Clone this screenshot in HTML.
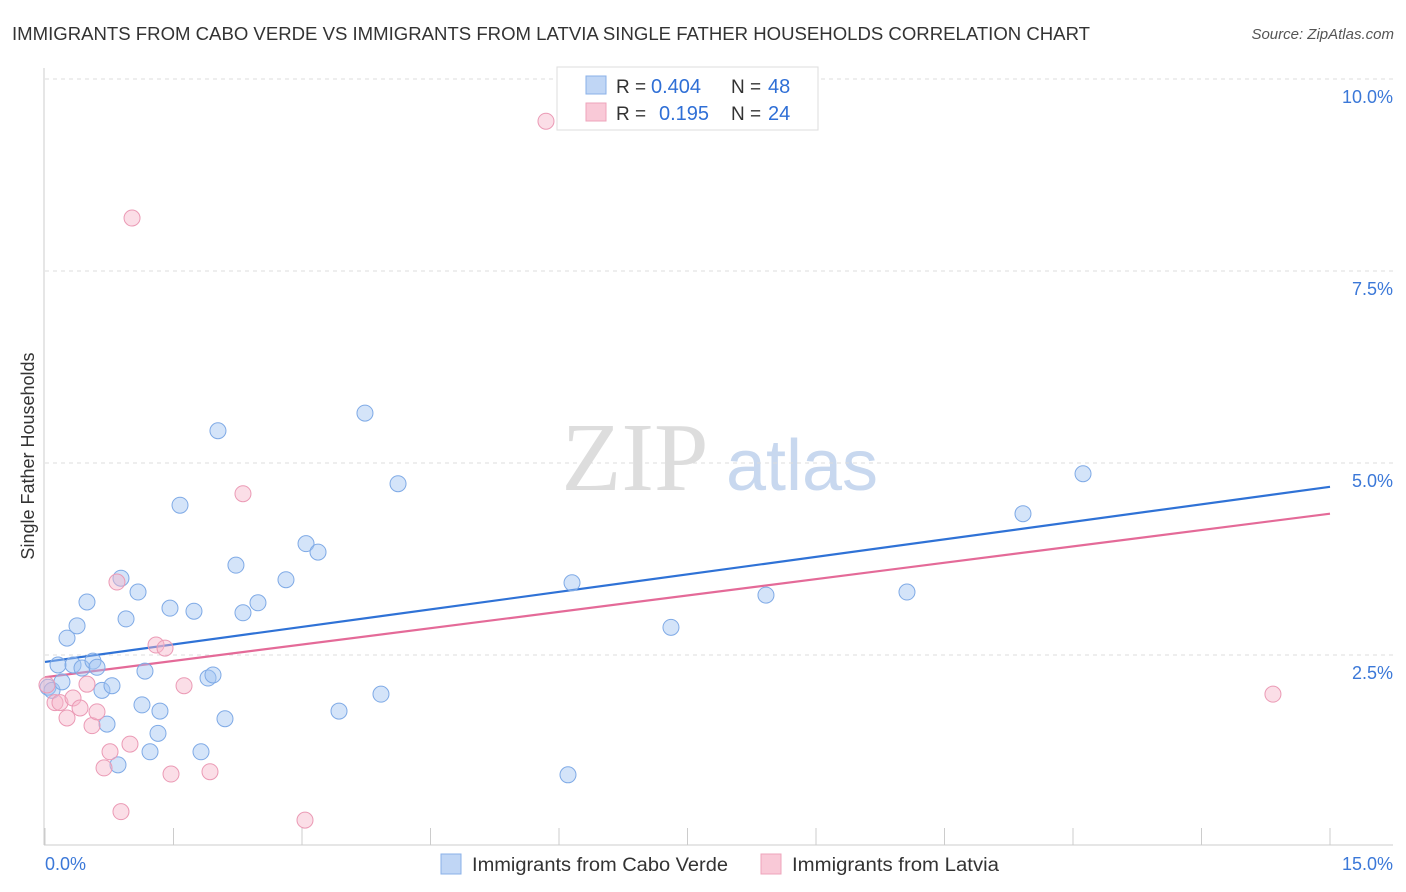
<!DOCTYPE html>
<html><head><meta charset="utf-8"><style>
body{margin:0;background:#fff;font-family:"Liberation Sans",sans-serif}
svg{display:block}
</style></head><body>
<svg id="c" width="1406" height="892">
<text x="12" y="40" font-size="18" fill="#333" textLength="1078" lengthAdjust="spacingAndGlyphs">IMMIGRANTS FROM CABO VERDE VS IMMIGRANTS FROM LATVIA SINGLE FATHER HOUSEHOLDS CORRELATION CHART</text>
<text x="1394" y="39" font-size="15" fill="#555" font-style="italic" text-anchor="end">Source: ZipAtlas.com</text>
<g>
<text x="635" y="490" font-size="98" fill="#ddd" font-family="Liberation Serif,serif" text-anchor="middle">ZIP</text>
<text x="802" y="490" font-size="72" fill="#c8d8ef" text-anchor="middle">atlas</text>
</g>
<text transform="translate(34,456) rotate(-90)" font-size="18" fill="#333" text-anchor="middle">Single Father Households</text>
<g id="grid"></g><g id="ticks"></g><g id="trend"></g><g id="pts"></g>
<g>
<rect x="557" y="67" width="261" height="63" fill="#fff" stroke="#ddd"/>
<rect x="586" y="76" width="20" height="18" fill="#c0d6f5" stroke="#8ab0e8"/>
<text x="616" y="93" font-size="19" fill="#333">R = </text>
<text x="651" y="93" font-size="20" fill="#2f6fd6">0.404</text>
<text x="731" y="93" font-size="19" fill="#333">N = </text>
<text x="768" y="93" font-size="20" fill="#2f6fd6">48</text>
<rect x="586" y="103" width="20" height="18" fill="#f9c9d7" stroke="#eea4bb"/>
<text x="616" y="120" font-size="19" fill="#333">R = </text>
<text x="659" y="120" font-size="20" fill="#2f6fd6">0.195</text>
<text x="731" y="120" font-size="19" fill="#333">N = </text>
<text x="768" y="120" font-size="20" fill="#2f6fd6">24</text>
</g>
<g>
<rect x="441" y="854" width="20" height="20" fill="#c0d6f5" stroke="#8ab0e8"/>
<text x="472" y="871" font-size="19" fill="#333" textLength="256" lengthAdjust="spacingAndGlyphs">Immigrants from Cabo Verde</text>
<rect x="761" y="854" width="20" height="20" fill="#f9c9d7" stroke="#eea4bb"/>
<text x="792" y="871" font-size="19" fill="#333" textLength="207" lengthAdjust="spacingAndGlyphs">Immigrants from Latvia</text>
</g>
<text x="45" y="870" font-size="18" fill="#3b78d8">0.0%</text>
<text x="1393" y="870" font-size="18" fill="#3b78d8" text-anchor="end">15.0%</text>
</svg>
<script>
const blueX=[0.035,0.082,0.152,0.198,0.257,0.327,0.374,0.432,0.490,0.560,0.607,0.665,0.724,0.782,0.852,0.887,0.946,1.086,1.132,1.167,1.226,1.319,1.342,1.459,1.576,1.739,1.821,1.903,1.961,2.019,2.101,2.229,2.311,2.486,2.813,3.047,3.187,3.432,3.735,3.922,4.121,6.105,6.152,7.307,8.416,10.062,11.416,12.117];
const blueY=[2.08,2.04,2.37,2.15,2.72,2.37,2.88,2.33,3.19,2.42,2.34,2.04,1.60,2.10,1.07,3.50,2.97,3.32,1.85,2.29,1.24,1.48,1.77,3.11,4.45,3.07,1.24,2.20,2.24,5.42,1.67,3.67,3.05,3.18,3.48,3.95,3.84,1.77,5.65,1.99,4.73,0.94,3.44,2.86,3.28,3.32,4.34,4.86];
const pinkX=[0.023,0.117,0.175,0.257,0.327,0.409,0.490,0.549,0.607,0.689,0.759,0.840,0.887,0.992,1.016,1.296,1.401,1.471,1.623,1.926,2.311,3.035,5.848,14.334];
const pinkY=[2.11,1.88,1.88,1.68,1.94,1.81,2.12,1.58,1.76,1.03,1.24,3.45,0.46,1.34,8.19,2.63,2.59,0.95,2.10,0.98,4.60,0.35,9.45,1.99];
const blueTrend=[2.41,4.69];
const pinkTrend=[2.21,4.34];
const yTicks=[2.5,5.0,7.5,10.0];
const yTickLabels=["2.5%","5.0%","7.5%","10.0%"];
const xTicks=[0,1.5,3,4.5,6,7.5,9,10.5,12,13.5,15];
const NS="http://www.w3.org/2000/svg";
const sx=v=>45+v/15*1285, sy=v=>847-v/10*768;
function mk(p,t,a){const e=document.createElementNS(NS,t);for(const k in a)e.setAttribute(k,a[k]);document.getElementById(p).appendChild(e);return e;}
yTicks.forEach((t,i)=>{
 const l=mk('grid','line',{x1:45,x2:1393,y1:sy(t),y2:sy(t),stroke:'#ddd','stroke-dasharray':'4,4'});
 
 
 const tx=mk('grid','text',{x:1393,y:sy(t)+24,'font-size':18,fill:'#3b78d8','text-anchor':'end'});
 tx.textContent=yTickLabels[i];
 
 
});
const ax=mk('ticks','line',{x1:44,x2:44,y1:68,y2:845,stroke:'#ccc'});


const bx=mk('ticks','line',{x1:44,x2:1393,y1:845,y2:845,stroke:'#ccc'});


xTicks.forEach(t=>{
 const l=mk('ticks','line',{x1:sx(t),x2:sx(t),y1:828,y2:845,stroke:'#ccc'});
 
 
});
[[blueTrend,'#2f72d6','trend-line-cabo-verde'],[pinkTrend,'#e46a98','trend-line-latvia']].forEach(([tr,c,n])=>{
 const l=mk('trend','line',{x1:sx(0),y1:sy(tr[0]),x2:sx(15),y2:sy(tr[1]),stroke:c,'stroke-width':2.2});
 
 
});
blueX.forEach((x,i)=>{
 const c=mk('pts','circle',{cx:sx(x),cy:sy(blueY[i]),r:8,fill:'rgba(160,196,242,0.45)',stroke:'#7faae6','stroke-width':1});
 
 
});
pinkX.forEach((x,i)=>{
 const c=mk('pts','circle',{cx:sx(x),cy:sy(pinkY[i]),r:8,fill:'rgba(246,182,202,0.45)',stroke:'#eb9ab5','stroke-width':1});
 
 
});
</script>
</body></html>
